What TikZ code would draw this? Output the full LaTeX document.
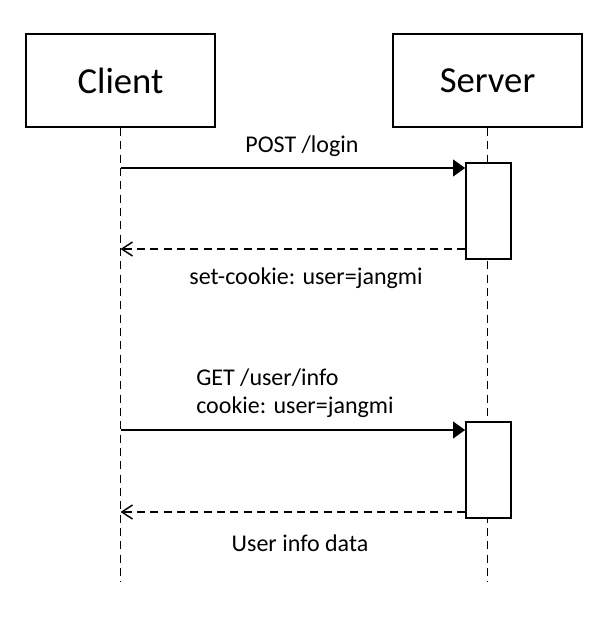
\documentclass[tikz,border=0pt]{standalone}
\usepackage{fontspec}
\setmainfont{Carlito}
\usetikzlibrary{arrows.meta}

\tikzset{
  actor/.style={draw, line width=1.3pt, minimum width=141.75pt, minimum height=69.75pt,
    inner sep=0pt, font=\fontsize{27.5}{32}\selectfont},
  activation/.style={draw, fill=white, line width=1.3pt, minimum width=33.75pt,
    minimum height=72pt, inner sep=0pt},
  lifeline/.style={line width=1.1pt, dash pattern=on 6pt off 4pt},
  call/.style={line width=1.3pt, -{Triangle[length=9pt,width=12.5pt]}},
  reply/.style={line width=1.1pt, dash pattern=on 6pt off 4pt,
    -{Straight Barb[length=8pt,width=10.5pt,line width=1.1pt]}},
  msglabel/.style={font=\fontsize{18}{21}\selectfont, inner sep=0pt}
}

\begin{document}
\begin{tikzpicture}[x=0.75pt,y=-0.75pt]
        \useasboundingbox (0,0) rectangle (608,618);
        % participants
        \node[actor] (client) at (120.5,80.5) {Client};
        \node[actor] (server) at (487.5,80.5) {Server};
        \coordinate (clientend) at (120.5,582);
        \coordinate (serverend) at (487.5,582);
        \draw[lifeline] (client.south) -- (clientend);
        \draw[lifeline] (server.south) -- (serverend);

        % login
        \node[activation] (login) at (488.5,211) {};
        \coordinate (post) at (120.5,168);
        \coordinate (setcookie) at (120.5,249);
        \draw[call] (post) -- (login.west |- post);
        \draw[reply] (login.west |- setcookie) -- (setcookie);
        \node[msglabel] (postlabel) at (302,146) {POST /login};
        \node[msglabel] (cookielabel) at (306,278) {set-cookie: user=jangmi};

        % user info
        \node[activation] (info) at (488.5,470) {};
        \coordinate (get) at (120.5,430);
        \coordinate (data) at (120.5,512);
        \draw[call] (get) -- (info.west |- get);
        \draw[reply] (info.west |- data) -- (data);
        \node[msglabel, anchor=west, align=left] (getlabel) at (196,393.5) {GET /user/info\\cookie: user=jangmi};
        \node[msglabel] (datalabel) at (300,543) {User info data};
\end{tikzpicture}
\end{document}
